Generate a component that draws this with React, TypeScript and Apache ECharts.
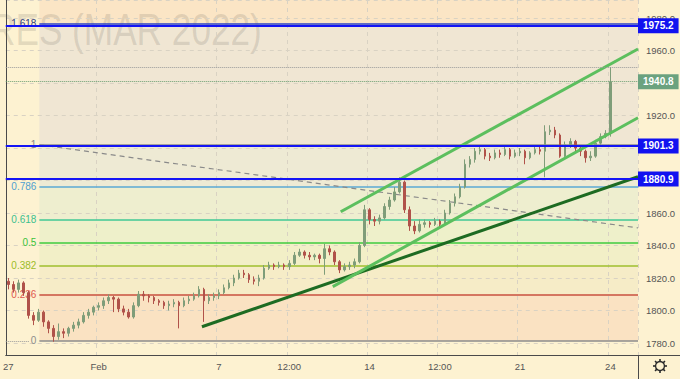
import React, { useEffect, useRef } from "react";
import * as echarts from "echarts";

// [open, close, low, high] per 4h candle, Jan 27 -> Feb 24
const candleOHLC: number[][] = [
  [1818, 1816, 1813, 1820], [1816, 1813, 1811, 1818], [1813, 1817, 1811, 1819], [1817, 1811, 1809, 1818],
  [1811, 1797, 1795, 1812], [1797, 1794, 1791, 1799], [1794, 1799, 1793, 1801], [1799, 1793, 1790, 1800],
  [1793, 1789, 1786, 1794], [1789, 1784, 1780.8, 1791], [1784, 1787, 1782, 1792], [1787, 1786, 1783, 1789],
  [1786, 1789, 1784, 1790], [1789, 1791, 1787, 1793], [1791, 1793, 1789, 1795], [1793, 1797, 1792, 1799],
  [1797, 1799, 1795, 1801], [1799, 1802, 1797, 1803], [1802, 1803, 1800, 1805], [1803, 1806, 1801, 1808],
  [1806, 1808, 1804, 1810], [1808, 1807, 1799, 1809], [1807, 1801, 1799, 1808], [1801, 1799, 1797, 1803],
  [1799, 1796, 1795, 1801], [1796, 1803, 1795, 1805], [1803, 1810, 1802, 1812], [1810, 1809, 1806, 1812],
  [1809, 1808, 1805, 1810], [1808, 1806, 1804, 1809], [1806, 1805, 1803, 1807], [1805, 1803, 1801, 1806],
  [1803, 1804, 1800, 1806], [1804, 1805, 1802, 1807], [1805, 1803, 1789, 1806], [1803, 1806, 1802, 1808],
  [1806, 1807, 1804, 1809], [1807, 1809, 1806, 1811], [1809, 1813, 1808, 1815], [1813, 1806, 1793, 1814],
  [1806, 1808, 1804, 1810], [1808, 1809, 1806, 1811], [1809, 1811, 1807, 1813], [1811, 1814, 1810, 1816],
  [1814, 1817, 1813, 1819], [1817, 1820, 1815, 1822], [1820, 1823, 1819, 1825], [1823, 1822, 1820, 1825],
  [1822, 1819, 1817, 1823], [1819, 1818, 1816, 1821], [1818, 1820, 1815, 1822], [1820, 1826, 1819, 1828],
  [1826, 1828, 1825, 1830], [1828, 1827, 1825, 1829], [1827, 1828, 1826, 1830], [1828, 1827, 1825, 1829],
  [1827, 1829, 1825, 1831], [1829, 1834, 1828, 1836], [1834, 1836, 1833, 1838], [1836, 1834, 1832, 1837],
  [1834, 1833, 1831, 1836], [1833, 1834, 1831, 1835], [1834, 1832, 1829, 1835], [1832, 1838, 1822, 1841],
  [1838, 1836, 1834, 1840], [1836, 1830, 1828, 1837], [1830, 1825, 1823, 1831], [1825, 1827, 1824, 1829],
  [1827, 1828, 1825, 1830], [1828, 1830, 1826, 1832], [1830, 1840, 1829, 1842], [1840, 1862, 1839, 1865],
  [1862, 1856, 1853, 1863], [1856, 1855, 1852, 1858], [1855, 1857, 1853, 1859], [1857, 1864, 1856, 1866],
  [1864, 1868, 1862, 1870], [1868, 1873, 1867, 1876], [1873, 1879, 1872, 1882], [1879, 1862, 1860, 1880],
  [1862, 1852, 1849, 1864], [1852, 1849, 1847, 1855], [1849, 1853, 1848, 1856], [1853, 1854, 1851, 1856],
  [1854, 1853, 1851, 1855], [1853, 1855, 1852, 1857], [1855, 1853, 1851, 1856], [1853, 1860, 1852, 1862],
  [1860, 1866, 1859, 1868], [1866, 1870, 1864, 1872], [1870, 1876, 1869, 1878], [1876, 1890, 1875, 1893],
  [1890, 1893, 1888, 1895], [1893, 1898, 1891, 1900], [1898, 1899, 1896, 1901], [1899, 1895, 1893, 1900],
  [1895, 1894, 1892, 1897], [1894, 1897, 1893, 1899], [1897, 1896, 1894, 1899], [1896, 1899, 1895, 1901],
  [1899, 1895, 1893, 1900], [1895, 1897, 1894, 1899], [1897, 1898, 1895, 1900], [1898, 1894, 1890, 1899],
  [1894, 1897, 1893, 1898], [1897, 1899, 1896, 1901], [1899, 1898, 1896, 1901], [1898, 1910, 1882, 1914],
  [1910, 1911, 1908, 1914], [1911, 1908, 1906, 1913], [1908, 1895, 1894, 1909], [1895, 1902, 1894, 1904],
  [1902, 1904, 1900, 1906], [1904, 1900, 1898, 1905], [1900, 1898, 1895, 1901], [1898, 1894, 1891, 1899],
  [1894, 1895, 1892, 1898], [1895, 1903, 1894, 1905], [1903, 1907, 1902, 1909], [1907, 1909, 1906, 1911],
  [1909, 1940.8, 1907, 1949.8],
];

const slotCount = 126;
const xLabelSlots = [0, 18, 42, 56, 72, 86, 102, 120];
const xLabelTexts = ["27", "Feb", "7", "12:00", "14", "12:00", "21", "24"];

const yMin = 1772.62;
const yMax = 1991.08;

const fibRatios = [0, 0.236, 0.382, 0.5, 0.618, 0.786, 1, 1.618];
const fibLabels = ["0", "0.236", "0.382", "0.5", "0.618", "0.786", "1", "1.618"];
const fibLineColors = ["#8c8c8c", "#c9503f", "#9fbf2e", "#3ecb3e", "#3fc894", "#5aa8d4", "#8c8c8c", "#2b3fc4"];
const fibLabelColors = ["#8c8c8c", "#e05a4e", "#9cbc28", "#3ac23a", "#3cc08f", "#4f9fd0", "#888888", "#33407e"];
const fibFillColors = ["#fae2c2", "#f6ecc7", "#f2efc7", "#eef0ca", "#eeeecf", "#eeead4", "#f0e6d3", "#fbe5c5"];
const fibLow = 1781.3;
const fibHigh = 1902.0;
const fibStartSlot = 6.7;

const priceLines = [1975.2, 1901.3, 1880.9];
const lastPrice = 1940.8;
const sessionHigh = 1949.8;

const trendDark = [[39.1, 1790.0], [126, 1882.3]];
const channelUpper = [[66.75, 1860.8], [126, 1960.9]];
const channelLower = [[65.17, 1814.7], [126, 1918.6]];
const fibTrend = [[6.7, 1902.0], [126, 1850.8]];

const FONT = "Liberation Sans";

export default function App() {
  const ref = useRef<HTMLDivElement>(null);

  useEffect(() => {
    document.body.style.margin = "0";
    if (!ref.current) return;
    const chart = echarts.init(ref.current, undefined, { renderer: "svg" });

    const slotKeys = Array.from({ length: slotCount }, (_, i) => "s" + i);
    const labelMap: Record<number, string> = {};
    xLabelSlots.forEach((s, k) => (labelMap[s] = xLabelTexts[k]));
    const isLabel = (i: number) => labelMap[i] !== undefined;

    const fibValues = fibRatios.map((r) => fibLow + r * (fibHigh - fibLow));
    const boxPrices = [...priceLines, lastPrice];
    const coveredTick = (v: number) => boxPrices.some((p) => Math.abs(p - v) < 4);

    const fillAreas = fibValues.slice(0, -1).map((v, k) => [
      { coord: [fibStartSlot, v], itemStyle: { color: fibFillColors[k] } },
      { coord: [slotCount, fibValues[k + 1]] },
    ]);
    fillAreas.push([
      { coord: [fibStartSlot, fibValues[fibValues.length - 1]], itemStyle: { color: fibFillColors[fibFillColors.length - 1] } },
      { coord: [slotCount, yMax] },
    ]);

    const fibLinesData: any[] = fibValues.map((v, k) => [
      {
        coord: [fibStartSlot, v],
        lineStyle: { color: fibLineColors[k], width: 1.5, type: "solid" },
        label: {
          show: true,
          position: "start",
          distance: 3,
          formatter: fibLabels[k],
          color: fibLabelColors[k],
          fontSize: 10,
          fontFamily: FONT,
        },
      },
      { coord: [slotCount, v] },
    ]);
    fibLinesData.push([
      { coord: [0, fibLow], lineStyle: { color: "#9a9a9a", width: 1, type: "dotted" }, label: { show: false } },
      { coord: [4.6, fibLow] },
    ]);

    const boxLabel = (v: number, bg: string) => ({
      show: true,
      position: "end",
      distance: 0,
      formatter: v.toFixed(1),
      backgroundColor: bg,
      color: "#ffffff",
      fontSize: 10,
      fontWeight: "bold",
      fontFamily: FONT,
      padding: [2, 5, 2, 5],
      lineHeight: 11,
    });

    const hLineData: any[] = priceLines.map((v) => ({
      yAxis: v,
      lineStyle: { color: "#1414f5", width: 2, type: "solid" },
      label: boxLabel(v, "#1212f0"),
    }));
    hLineData.push({
      yAxis: lastPrice,
      lineStyle: { color: "#6a9e70", width: 1, type: "dotted" },
      label: boxLabel(lastPrice, "#6ba27f"),
    });
    hLineData.push({
      yAxis: sessionHigh,
      lineStyle: { color: "#9a9a9a", width: 1, type: "dotted" },
      label: { show: false },
    });

    const gearRays = Array.from({ length: 8 }, (_, k) => {
      const a = (k * Math.PI) / 4;
      return {
        type: "line",
        shape: {
          x1: 660 + Math.cos(a) * 4.5,
          y1: 366 + Math.sin(a) * 4.5,
          x2: 660 + Math.cos(a) * 7,
          y2: 366 + Math.sin(a) * 7,
        },
        style: { stroke: "#2a2a2a", lineWidth: 1.6 },
      };
    });

    const option: any = {
      animation: false,
      backgroundColor: "#fdf2d1",
      grid: { left: 0, right: 42, top: 0, bottom: 24, containLabel: false },
      xAxis: [
        {
          type: "category",
          data: slotKeys,
          boundaryGap: true,
          axisLine: { show: true, lineStyle: { color: "#4a4a4a", width: 1 } },
          axisTick: { show: false },
          axisLabel: {
            interval: (i: number) => isLabel(i),
            formatter: (_v: string, i: number) => labelMap[i] ?? "",
            color: "#555555",
            fontSize: 9.5,
            fontFamily: FONT,
            margin: 6,
          },
          splitLine: {
            show: true,
            interval: (i: number) => isLabel(i),
            lineStyle: { color: "#d9d2c3", type: [4, 4], width: 1 },
          },
        },
        { type: "value", min: 0, max: slotCount, show: false },
      ],
      yAxis: {
        type: "value",
        position: "right",
        min: yMin,
        max: yMax,
        splitNumber: 11,
        axisLine: { show: true, lineStyle: { color: "#4a4a4a", width: 1 } },
        axisTick: { show: false },
        axisLabel: {
          color: "#555555",
          fontSize: 9.5,
          fontFamily: FONT,
          margin: 8,
          showMinLabel: false,
          showMaxLabel: false,
          formatter: (v: number) => (coveredTick(v) ? "" : v.toFixed(1)),
        },
        splitLine: { show: true, lineStyle: { color: "#d9d2c3", type: [4, 4], width: 1 } },
      },
      graphic: [
        {
          type: "text",
          x: -10,
          y: 30,
          scaleX: 0.8,
          z: 0,
          silent: true,
          style: {
            text: "RES (MAR 2022)",
            font: `44px "${FONT}"`,
            fill: "rgba(90,85,80,0.17)",
            verticalAlign: "middle",
          },
        },
        { type: "line", shape: { x1: 638, y1: 355.5, x2: 680, y2: 355.5 }, style: { stroke: "#4a4a4a", lineWidth: 1 } },
        { type: "line", shape: { x1: 638.5, y1: 355, x2: 638.5, y2: 379 }, style: { stroke: "#4a4a4a", lineWidth: 1 } },
        { type: "circle", shape: { cx: 660, cy: 366, r: 4.5 }, style: { fill: "none", stroke: "#2a2a2a", lineWidth: 1.4 } },
        ...gearRays,
      ],
      series: [
        {
          name: "fibFill",
          type: "line",
          xAxisIndex: 1,
          data: [],
          z: 0,
          silent: true,
          markArea: { silent: true, z: -1, data: fillAreas },
        },
        {
          name: "candles",
          type: "candlestick",
          xAxisIndex: 0,
          data: candleOHLC,
          barWidth: 2,
          z: 3,
          itemStyle: {
            color: "#7f9d79",
            color0: "#b0524a",
            borderColor: "#7f9d79",
            borderColor0: "#b0524a",
            borderWidth: 1,
          },
        },
        {
          name: "fibLines",
          type: "line",
          xAxisIndex: 1,
          data: [],
          clip: false,
          z: 2,
          markLine: { silent: true, symbol: ["none", "none"], z: 2, data: fibLinesData },
        },
        {
          name: "fibTrend",
          type: "line",
          xAxisIndex: 1,
          data: fibTrend,
          symbol: "none",
          z: 2,
          lineStyle: { color: "#8a8a8a", width: 1.2, type: [5, 4] },
        },
        {
          name: "trendDark",
          type: "line",
          xAxisIndex: 1,
          data: trendDark,
          symbol: "none",
          z: 4,
          lineStyle: { color: "#1d6b22", width: 3 },
        },
        {
          name: "channelUpper",
          type: "line",
          xAxisIndex: 1,
          data: channelUpper,
          symbol: "none",
          z: 4,
          lineStyle: { color: "#5cbf5e", width: 3 },
        },
        {
          name: "channelLower",
          type: "line",
          xAxisIndex: 1,
          data: channelLower,
          symbol: "none",
          z: 4,
          lineStyle: { color: "#5cbf5e", width: 3 },
        },
        {
          name: "priceLines",
          type: "line",
          xAxisIndex: 1,
          data: [],
          clip: false,
          z: 5,
          markLine: { silent: true, symbol: ["none", "none"], z: 6, data: hLineData },
        },
      ],
    };

    chart.setOption(option);
    return () => chart.dispose();
  }, []);

  return <div ref={ref} style={{ width: 680, height: 379 }} />;
}
